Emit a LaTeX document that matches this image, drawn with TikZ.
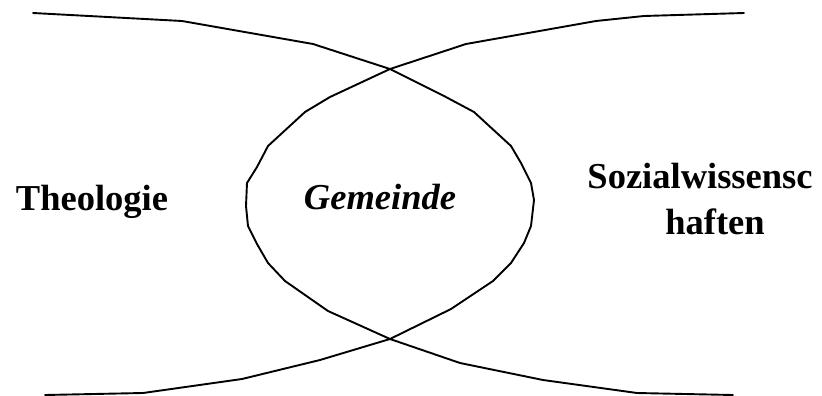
\documentclass[tikz,border=0pt]{standalone}
\usepackage{fontspec}
\setmainfont{Liberation Serif}
\begin{document}
\begin{tikzpicture}[x=1pt,y=-1pt,
  curve/.style={line width=1.9pt,line join=round,line cap=round},
  lbl/.style={anchor=base,inner sep=0pt,font=\fontsize{36.5}{44}\selectfont\bfseries},
  lblit/.style={lbl,font=\fontsize{36.5}{44}\selectfont\bfseries\itshape}]
\useasboundingbox (0,0) rectangle (822,396);
% curve: top-left -> right arc -> bottom-left
\draw[curve] (33,13) -- (182,21) -- (313,44) -- (390,69) -- (444,96) -- (474,112)
  -- (511,146) -- (521,163) -- (531,183) -- (534,200) -- (531,226) -- (524,243)
  -- (511,263) -- (493,281) -- (451,309) -- (390,339) -- (320,360) -- (242,379)
  -- (143,393) -- (45,395);
% curve: top-right -> left arc -> bottom-right
\draw[curve] (744,13) -- (644,16) -- (596,21) -- (466,44) -- (390,69) -- (330,97)
  -- (305,112) -- (268,146) -- (257,167) -- (247,183) -- (246,206) -- (248,226)
  -- (257,244) -- (268,263) -- (285,281) -- (328,311) -- (390,339) -- (460,363)
  -- (543,380) -- (637,393) -- (733,395);
\node[lbl] (theo) at (92,210) {Theologie};
\node[lblit] (gem) at (380,209) {Gemeinde};
\node[lbl] (soz1) at (700,188) {Sozialwissensc};
\node[lbl] (soz2) at (715,234) {haften};
\end{tikzpicture}
\end{document}
